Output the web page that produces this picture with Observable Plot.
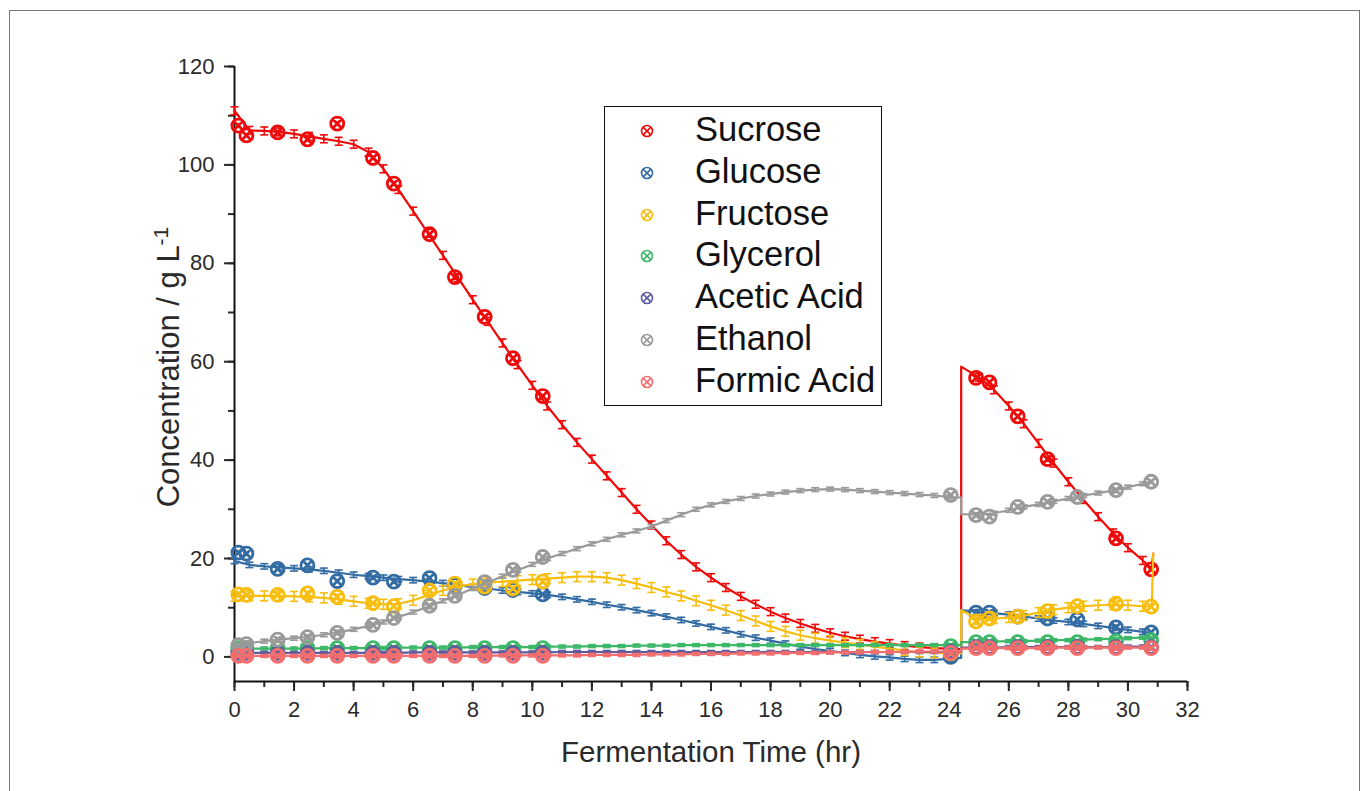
<!DOCTYPE html>
<html><head><meta charset="utf-8">
<script src="https://cdn.jsdelivr.net/npm/d3@7"></script>
<script src="https://cdn.jsdelivr.net/npm/@observablehq/plot@0.6"></script>
<style>
body{margin:0;background:#fff;}
#wrap{position:relative;width:1364px;height:791px;overflow:hidden;background:#fff;font-family:'Liberation Sans',Arial,sans-serif;}
#frame{position:absolute;left:9px;top:10px;width:1351px;height:820px;border:1px solid #777;box-sizing:border-box;}
#chart{position:absolute;left:0;top:0;}
#legend{position:absolute;left:604px;top:106px;width:278px;height:300px;border:1.5px solid #111;background:#fff;box-sizing:border-box;}
.row{position:absolute;left:0;height:40px;width:270px;}
.row svg{position:absolute;left:34px;top:12px;}
.row span{position:absolute;left:90px;top:-2px;font-size:34.5px;color:#111;white-space:nowrap;line-height:40px;}
</style></head>
<body><div id="wrap"><div id="frame"></div><div id="chart"></div><div id="legend"></div></div>
<script>
// ---------- data ----------
const seriesNames = ["Sucrose","Glucose","Fructose","Glycerol","Acetic Acid","Ethanol","Formic Acid"];
const seriesColors = ["#ee0a0a","#336ba3","#f7bd0f","#3cb868","#5e5b9e","#9a9a9a","#f46e6e"];
const seriesErr = [0.8, 0.55, 1.0, 0.3, 0.3, 0.4, 0.3];

// fitted-curve time grid (hr)
const curveTime = [0,0.5,1,1.5,2,2.5,3,3.5,4,4.5,5,5.5,6,6.5,7,7.5,8,8.5,9,9.5,10,10.5,11,11.5,12,12.5,13,13.5,14,14.5,15,15.5,16,16.5,17,17.5,18,18.5,19,19.5,20,20.5,21,21.5,22,22.5,23,23.5,24,24.4,24.4,25,25.5,26,26.5,27,27.5,28,28.5,29,29.5,30,30.5,30.8,30.85];
const sucroseCurve = [111,107,106.9,106.7,106.3,105.8,105.3,104.8,104.2,102.6,99.2,95,90.6,86.1,81.6,77.1,72.6,68.2,63.8,59.4,55.2,51,47.2,43.6,40.2,36.8,33.4,30,26.8,23.6,20.8,18.3,16.1,14.1,12.3,10.7,9.2,7.9,6.8,5.8,4.9,4.2,3.6,3.1,2.7,2.3,2.0,1.8,1.7,1.6,59,56.8,54.3,51,47.4,43.4,39.4,35.6,32,28.5,25.2,22.2,19.6,18,21];
const glucoseCurve = [19.5,18.7,18.4,18.2,18,17.8,17.5,17.1,16.7,16.4,16.1,15.8,15.6,15.3,15,14.6,14.2,13.9,13.5,13.2,12.9,12.6,12.2,11.7,11.2,10.6,10.1,9.5,8.9,8.2,7.5,6.8,6.1,5.4,4.6,3.9,3.3,2.7,2.1,1.6,1.2,0.8,0.4,0.1,-0.1,-0.4,-0.6,-0.6,-0.4,-0.2,9.5,9.1,8.9,8.6,8.2,7.8,7.4,7.1,6.7,6.3,5.9,5.5,5.1,4.9,null];
const fructoseCurve = [12.3,12.4,12.4,12.4,12.3,12.2,12,11.7,11.3,10.9,10.7,10.8,11.5,12.5,13.5,14.3,14.8,15.1,15.3,15.5,15.7,15.9,16.1,16.3,16.3,16.1,15.6,14.9,14.1,13.2,12.4,11.4,10.5,9.5,8.4,7.3,6.2,5.2,4.4,3.8,3.3,2.9,2.5,2.1,1.7,1.3,1,0.8,0.7,0.7,9.5,7.6,7.8,8,8.4,9,9.6,10,10.3,10.5,10.6,10.5,10.3,10.2,21];
const glycerolCurve = [1.6,1.7,1.7,1.7,1.7,1.7,1.8,1.8,1.8,1.8,1.8,1.9,1.9,1.9,1.9,1.9,2,2,2,2,2,2.1,2.1,2.1,2.2,2.2,2.2,2.3,2.3,2.3,2.4,2.4,2.4,2.4,2.4,2.4,2.4,2.4,2.4,2.4,2.4,2.4,2.4,2.4,2.4,2.4,2.4,2.4,2.4,2.4,3,3,3.1,3.2,3.2,3.3,3.4,3.4,3.5,3.6,3.7,3.8,3.9,4,null];
const aceticCurve = [0.8,0.8,0.8,0.8,0.8,0.8,0.8,0.8,0.8,0.8,0.8,0.8,0.9,0.9,0.9,0.9,0.9,0.9,0.9,0.9,0.9,0.9,1,1,1,1,1,1,1,1,1,1,1,1,1,1,1,1,1,1,1,1,1,1,1,1,1,1,1,1,1.9,1.9,1.9,2,2,2,2,2,2,2,2,2.1,2.1,2.1,null];
const ethanolCurve = [2,2.8,3.2,3.5,3.8,4.1,4.5,5,5.6,6.3,7.1,8.1,9.1,10.2,11.4,12.6,13.9,15.1,16.4,17.6,18.8,20,21,22,23,23.9,24.8,25.6,26.5,27.7,28.9,30,30.9,31.6,32.2,32.7,33.1,33.5,33.8,34,34.1,34,33.8,33.6,33.4,33.2,33,32.8,32.5,32.4,29,28.9,29.2,29.8,30.5,31,31.6,32.2,32.8,33.3,33.8,34.5,35.2,35.7,null];
const formicCurve = [0.2,0.2,0.2,0.2,0.2,0.2,0.2,0.2,0.2,0.2,0.2,0.2,0.2,0.2,0.2,0.2,0.2,0.2,0.3,0.3,0.3,0.3,0.3,0.3,0.4,0.4,0.4,0.4,0.5,0.5,0.5,0.6,0.6,0.6,0.7,0.7,0.7,0.8,0.8,0.8,0.9,0.9,0.9,1,1,1,1.1,1.1,1.1,1.1,1.7,1.7,1.8,1.8,1.8,1.8,1.9,1.9,1.9,1.9,1.9,1.9,1.9,1.9,null];

// measured samples (hr)
const sampleTime = [0.13,0.4,1.45,2.45,3.45,4.65,5.35,6.55,7.4,8.4,9.35,10.35,24.05,24.9,25.35,26.3,27.3,28.3,29.6,30.78];
const sucroseObs = [108,106,106.6,105.2,108.4,101.4,96.2,85.9,77.2,69.1,60.7,53,0.9,56.7,55.8,48.9,40.2,null,24.1,17.8];
const glucoseObs = [21.2,21,17.9,18.6,15.4,16.1,15.3,16,14.6,14,13.6,12.7,0,9,9,8.2,7.8,7.6,6,5];
const fructoseObs = [12.7,12.6,12.6,12.9,12.2,10.9,10.3,13.5,14.9,14.3,13.9,15.3,0.7,7.2,7.8,8.2,9.3,10.3,10.8,10.2];
const glycerolObs = [1.8,1.8,1.8,1.8,1.8,1.8,1.8,1.8,1.8,1.8,1.8,1.8,2.2,3,3,3,3,3,3.2,3.4];
const aceticObs = [0.8,0.8,0.8,0.8,0.8,0.8,0.8,0.8,0.8,0.8,0.8,0.8,1,2,2,2,2,2,2,2];
const ethanolObs = [2.4,2.6,3.5,4,4.9,6.5,7.9,10.4,12.4,15.2,17.7,20.3,32.9,28.8,28.5,30.5,31.5,32.5,33.9,35.6];
const formicObs = [0.2,0.2,0.2,0.2,0.2,0.2,0.2,0.2,0.2,0.2,0.2,0.2,0.8,1.8,1.8,1.8,1.8,1.8,1.8,1.8];

const xTicks = [0,2,4,6,8,10,12,14,16,18,20,22,24,26,28,30,32];
const yTicks = [0,20,40,60,80,100,120];

// ---------- build ----------
const curves = [sucroseCurve,glucoseCurve,fructoseCurve,glycerolCurve,aceticCurve,ethanolCurve,formicCurve];
const obs = [sucroseObs,glucoseObs,fructoseObs,glycerolObs,aceticObs,ethanolObs,formicObs];

const circleX = {draw(ctx, size){ const r=Math.sqrt(size/Math.PI); ctx.moveTo(r,0); ctx.arc(0,0,r,0,2*Math.PI); const d=r*0.7071; ctx.moveTo(-d,-d); ctx.lineTo(d,d); ctx.moveTo(-d,d); ctx.lineTo(d,-d);} };
const capSym = {draw(ctx, size){ const w=Math.sqrt(size/Math.PI); ctx.moveTo(-w,0); ctx.lineTo(w,0);} };

const marks = [];
seriesNames.forEach((name, s) => {
  const color = seriesColors[s];
  const line = curveTime.map((t,i)=>({t, v: curves[s][i]}));
  const bars = line.filter((d,i)=> d.v!=null && Number.isInteger(d.t*2)).map(d=>({t:d.t, lo:d.v-seriesErr[s], hi:d.v+seriesErr[s]}));
  const pts = sampleTime.map((t,i)=>({t, v: obs[s][i]})).filter(d=>d.v!=null);
  marks.push(Plot.line(line, {x:"t", y:"v", stroke:color, strokeWidth:2.2}));
  marks.push(Plot.ruleX(bars, {x:"t", y1:"lo", y2:"hi", stroke:color, strokeWidth:1.6}));
  marks.push(Plot.dot(bars, {x:"t", y:"lo", symbol:capSym, r:4, stroke:color, strokeWidth:1.6}));
  marks.push(Plot.dot(bars, {x:"t", y:"hi", symbol:capSym, r:4, stroke:color, strokeWidth:1.6}));
  marks.push(Plot.dot(pts, {x:"t", y:"v", symbol:circleX, r:6.5, stroke:color, strokeWidth:2.8, fill:"none"}));
});

const chart = Plot.plot({
  width:1364, height:791,
  marginLeft:234, marginRight:177, marginTop:66, marginBottom:110,
  x:{domain:[0,32]}, y:{domain:[-5,120]},
  style:{fontFamily:"'Liberation Sans',Arial,sans-serif", fontSize:"22px", color:"#2a2a2a", background:"transparent", overflow:"visible"},
  marks:[
    Plot.axisX({ticks:d3.range(0,33,1), tickSize:6, tickFormat:()=>"", label:null, strokeWidth:2}),
    Plot.axisX({ticks:xTicks, tickSize:10, tickPadding:10, label:null, strokeWidth:2}),
    Plot.axisY({ticks:d3.range(0,121,10), tickSize:6, tickFormat:()=>"", label:null, strokeWidth:2}),
    Plot.axisY({ticks:yTicks, tickSize:10, tickPadding:10, label:null, strokeWidth:2}),
    Plot.ruleX([0], {y1:-5, y2:120, stroke:"#111", strokeWidth:2}),
    Plot.ruleY([-5], {x1:0, x2:32, stroke:"#111", strokeWidth:2}),
    ...marks
  ]
});
document.getElementById("chart").appendChild(chart);

// axis titles
const svg = d3.select(chart);
svg.append("text").attr("x",711).attr("y",762).attr("text-anchor","middle")
  .style("font-size","29.5px").attr("fill","#2a2a2a").text("Fermentation Time (hr)");
const yl = svg.append("text").attr("transform","translate(179,367) rotate(-90)").attr("text-anchor","middle")
  .style("font-size","31px").attr("fill","#2a2a2a");
yl.append("tspan").text("Concentration / g L");
yl.append("tspan").attr("dy","-11").style("font-size","21px").text("-1");

// legend
const leg = document.getElementById("legend");
seriesNames.forEach((name,s)=>{
  const row = document.createElement("div");
  row.className="row"; row.style.top = (4 + 41.8*s) + "px";
  row.innerHTML = `<svg width="16" height="16" viewBox="-8 -8 16 16"><circle r="5.5" fill="none" stroke="${seriesColors[s]}" stroke-width="1.6"/><path d="M-3.9,-3.9L3.9,3.9M-3.9,3.9L3.9,-3.9" stroke="${seriesColors[s]}" stroke-width="1.6"/></svg><span>${name}</span>`;
  leg.appendChild(row);
});
</script></body></html>
